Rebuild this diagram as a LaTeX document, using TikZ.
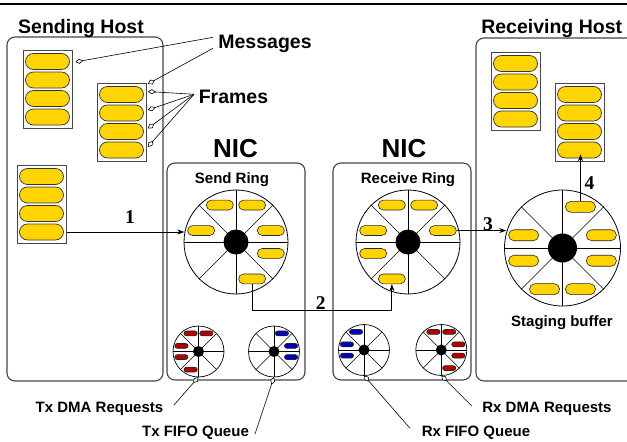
\documentclass[tikz,border=0pt]{standalone}
\usepackage{fontspec}
\setmainfont{Liberation Sans}[BoldFont={Liberation Sans Bold}]
\newfontfamily\stepfont{Liberation Serif}[BoldFont={Liberation Serif Bold}]
\usetikzlibrary{arrows.meta,shapes.misc,calc}

\definecolor{pillgold}{RGB}{255,212,0}
\definecolor{reqred}{RGB}{178,0,0}
\definecolor{fifoblue}{RGB}{0,0,185}
\definecolor{boxgray}{RGB}{70,70,70}

% where a pill sits inside a ring, as fractions of the ring radius
\newcommand\pdxTL{-0.31}\newcommand\pdyTL{-0.71}
\newcommand\pdxTR{0.31}\newcommand\pdyTR{-0.71}
\newcommand\pdxLU{-0.67}\newcommand\pdyLU{-0.22}
\newcommand\pdxRU{0.67}\newcommand\pdyRU{-0.22}
\newcommand\pdxLL{-0.67}\newcommand\pdyLL{0.22}
\newcommand\pdxRL{0.67}\newcommand\pdyRL{0.22}
\newcommand\pdxBL{-0.31}\newcommand\pdyBL{0.71}
\newcommand\pdxBR{0.31}\newcommand\pdyBR{0.71}

\tikzset{
  hostbox/.style={draw=boxgray, line width=1.1pt, rounded corners=8pt},
  block/.style={draw=boxgray, line width=0.8pt, minimum width=49pt, minimum height=78pt,
    inner sep=0pt, anchor=north west},
  stackpill/.style={rounded rectangle, draw=black!80, line width=0.7pt, fill=pillgold,
    minimum width=44pt, minimum height=16pt, inner sep=0pt},
  ringpill/.style={rounded rectangle, draw=black!85, line width=0.6pt, inner sep=0pt},
  title/.style={font=\fontsize{19.5}{22}\selectfont\bfseries, inner sep=0pt, anchor=base},
  niclabel/.style={font=\fontsize{26}{28}\selectfont\bfseries, inner sep=0pt, anchor=base},
  caption/.style={font=\fontsize{15}{17}\selectfont\bfseries, inner sep=0pt, anchor=base},
  stepnum/.style={font=\stepfont\fontsize{19.5}{22}\selectfont\bfseries, inner sep=0pt, anchor=base},
  flow/.style={-{Stealth[length=7pt,width=5pt]}, line width=0.8pt},
  leader/.style={-{Diamond[length=8pt,width=5pt,fill=white]}, line width=0.6pt},
  % ring buffer: radius, hub radius, filled sectors, pill colour, line width
  pics/ring/.style n args={5}{code={
    \draw[line width=#5] (0,0) circle[radius=#1];
    \foreach \a in {0,45,...,315}
      \draw[line width=0.75*#5] (0,0) -- (\a:#1);
    \fill (0,0) circle[radius=#2];
    \coordinate (-bottom) at (0,#1);
    \foreach \s in {#3}
      \node[ringpill, fill=#4, minimum width={0.52*#1}, minimum height={0.19*#1}]
        (-\s) at ({\csname pdx\s\endcsname*#1},{\csname pdy\s\endcsname*#1}) {};
  }}
}

% a message: a framed stack of four frames
\newcommand\msgstack[3]{%
  \node[block] (#1) at (#2,#3) {};
  \foreach \k in {1,...,4}
    \node[stackpill] (#1-\k) at ({#2+24.5},{#3+11.5+18.5*(\k-1)}) {};
}

\begin{document}
\begin{tikzpicture}[x=1pt,y=-1pt]
\useasboundingbox (0,0) rectangle (627,442);
\fill[white] (0,0) rectangle (627,442);
\draw[line width=2pt] (0,3.7) -- (627,3.7);

% hosts and network cards
\draw[hostbox] (7,37) rectangle (163,381);
\draw[hostbox] (476,38) rectangle (636,381);
\draw[hostbox] (167,163) rectangle (305,380);
\draw[hostbox] (333,163) rectangle (471,380);

% titles and captions
\node[title] (sendhost) at (81,33.3) {Sending Host};
\node[title] (recvhost) at (551.7,33.3) {Receiving Host};
\node[title] (msglbl) at (265,48.3) {Messages};
\node[title] (framelbl) at (233.5,103.3) {Frames};
\node[niclabel] (nicsend) at (235.5,157) {NIC};
\node[niclabel] (nicrecv) at (404,157) {NIC};
\node[caption] (sendringlbl) at (232,183.5) {Send Ring};
\node[caption] (recvringlbl) at (408,183.5) {Receive Ring};
\node[caption] (staglbl) at (562,326.7) {Staging buffer};
\node[caption] (txdmalbl) at (99.5,412.5) {Tx DMA Requests};
\node[caption] (txfifolbl) at (195.5,436.5) {Tx FIFO Queue};
\node[caption] (rxdmalbl) at (547,412.5) {Rx DMA Requests};
\node[caption] (rxfifolbl) at (476,436.5) {Rx FIFO Queue};

% messages in host memory
\msgstack{hsA}{23}{50}
\msgstack{hsB}{97}{83}
\msgstack{hsC}{17}{165}
\msgstack{hrA}{491}{52}
\msgstack{hrB}{555}{83}

% ring buffers
\pic (send) at (236,242) {ring={52}{12.5}{TL,TR,LU,RU,RL,BR}{pillgold}{0.8pt}};
\pic (recv) at (408,242) {ring={52}{12.5}{TL,TR,LU,RU,LL,BL}{pillgold}{0.8pt}};
\pic (stage) at (562.5,248) {ring={58}{14.5}{TR,LU,RU,LL,RL,BL,BR}{pillgold}{0.8pt}};
\pic (txdma) at (198.5,351.5) {ring={25.5}{5.5}{TL,TR,LU,LL,BL}{reqred}{0.7pt}};
\pic (txfifo) at (274,351.5) {ring={25.5}{5.5}{TR,RU,RL}{fifoblue}{0.7pt}};
\pic (rxfifo) at (364,350) {ring={25.5}{5.5}{TL,LU,LL}{fifoblue}{0.7pt}};
\pic (rxdma) at (441.3,350) {ring={25.5}{5.5}{TL,TR,RU,RL,BR}{reqred}{0.7pt}};

% leader lines from the labels
\coordinate (msgfootA) at (213,37.3);
\coordinate (msgfootB) at (213,48.3);
\coordinate (framefoot) at (194,94.3);
\coordinate (txdmafoot) at (174,405);
\coordinate (txfifofoot) at (255,434);
\coordinate (rxfifofoot) at (410,428.3);
\coordinate (rxdmafoot) at (471.7,406);

\draw[leader] (msgfootA) -- ($(hsA.east |- hsA-1)+(2.5,0.5)$);
\draw[leader] (msgfootB) -- ($(hsB.north east)+(1,1)$);
\foreach \k in {1,...,4}
  \draw[leader] (framefoot) -- ($(hsB.east |- hsB-\k)+(1,-3)$);
\draw[leader] (txdmafoot) -- (txdma-bottom);
\draw[leader] (txfifofoot) -- (txfifo-bottom);
\draw[leader] (rxfifofoot) -- (rxfifo-bottom);
\draw[leader] (rxdmafoot) -- (rxdma-bottom);

% data path
\coordinate (turn2) at (320,310.5);
\draw[flow, shorten >=3pt] (hsC.east |- hsC-4) -- (hsC-4 -| send-LU.west);
\draw[flow] (send-BR.south) |- (turn2) -| (recv-BL.south);
\draw[flow, shorten >=2pt] (recv-RU.east) -- (recv-RU.east -| stage-LU.west);
\draw[flow, shorten >=-4pt] (stage-TR.north) -- (stage-TR.north |- hrB-4.south);

\node[stepnum] (step1) at (130,223.5) {1};
\node[stepnum] (step2) at (320.7,309) {2};
\node[stepnum] (step3) at (488,230) {3};
\node[stepnum] (step4) at (589.5,189) {4};
\end{tikzpicture}
\end{document}
